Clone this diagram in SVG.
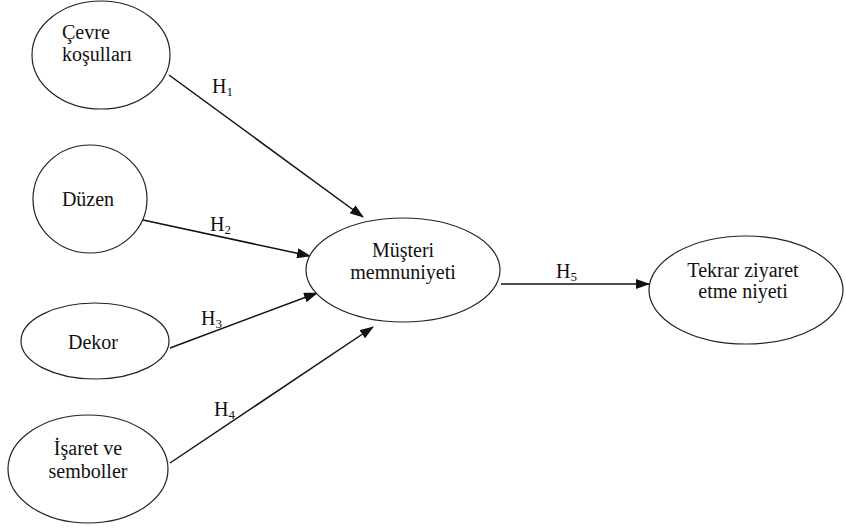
<svg xmlns="http://www.w3.org/2000/svg" width="846" height="531" viewBox="0 0 846 531" font-family="'Liberation Serif', 'Times New Roman', 'DejaVu Serif', serif">
<style>
.n ellipse{fill:#fff;stroke:#222;stroke-width:1.2}
text{font-family:'Liberation Serif','Times New Roman','DejaVu Serif',serif;font-size:20px;fill:#111}
.c text{text-anchor:middle}
.e line{stroke:#111;stroke-width:1.5;marker-end:url(#ah)}
.sub{font-size:13px}
</style>
<defs>
<marker id="ah" markerWidth="14" markerHeight="10" refX="13" refY="5" orient="auto" markerUnits="userSpaceOnUse">
<path d="M0,0 L14,5 L0,10 Z" fill="#111"/>
</marker>
</defs>
<g class="e" id="connectors">
<line x1="169" y1="75" x2="363" y2="217"/>
<line x1="143" y1="220" x2="310" y2="256"/>
<line x1="170" y1="348" x2="317" y2="293"/>
<line x1="170" y1="463" x2="373" y2="327"/>
<line x1="501" y1="284" x2="649" y2="284"/>
<text x="212" y="93">H<tspan class="sub" dy="3">1</tspan></text>
<text x="210" y="231">H<tspan class="sub" dy="3">2</tspan></text>
<text x="201" y="325">H<tspan class="sub" dy="3">3</tspan></text>
<text x="214" y="416">H<tspan class="sub" dy="3">4</tspan></text>
<text x="556" y="278">H<tspan class="sub" dy="3">5</tspan></text>
</g>
<g class="n" id="cevre">
<ellipse cx="101" cy="55" rx="69" ry="54"/>
<text x="62" y="39">Çevre</text>
<text x="62" y="61">koşulları</text>
</g>
<g class="n c" id="duzen">
<ellipse cx="90" cy="199" rx="57" ry="54"/>
<text x="88" y="206">Düzen</text>
</g>
<g class="n c" id="dekor">
<ellipse cx="95" cy="341" rx="74" ry="38"/>
<text x="93" y="349">Dekor</text>
</g>
<g class="n c" id="isaret">
<ellipse cx="88" cy="469" rx="80" ry="54"/>
<text x="88" y="455">İşaret ve</text>
<text x="88" y="478">semboller</text>
</g>
<g class="n c" id="musteri">
<ellipse cx="403" cy="270" rx="97" ry="52"/>
<text x="403" y="257">Müşteri</text>
<text x="403" y="279">memnuniyeti</text>
</g>
<g class="n c" id="tekrar">
<ellipse cx="746" cy="290" rx="97" ry="54"/>
<text x="743" y="277">Tekrar ziyaret</text>
<text x="743" y="298">etme niyeti</text>
</g>
</svg>
